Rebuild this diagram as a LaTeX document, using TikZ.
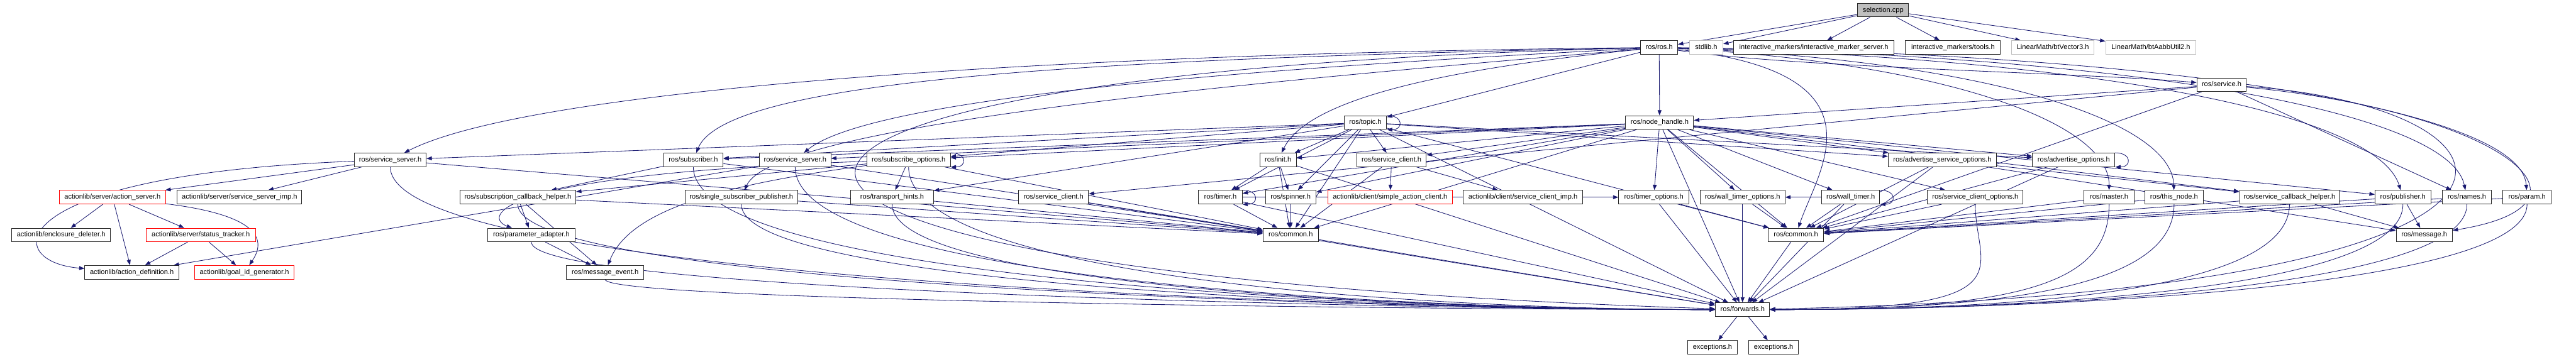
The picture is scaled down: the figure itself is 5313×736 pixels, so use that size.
\documentclass[tikz,border=0pt]{standalone}
\usepackage{fontspec}
\setmainfont{Liberation Sans}
\usetikzlibrary{arrows.meta}
\pgfdeclarelayer{bg}
\pgfsetlayers{bg,main}
\definecolor{eblue}{HTML}{191970}
\definecolor{ngray}{HTML}{BFBFBF}
\definecolor{nred}{HTML}{FF0000}
\begin{document}
\begin{tikzpicture}[x=1pt,y=-1pt,
  nd/.style={draw=black!85, line width=1.3pt, fill=white, minimum height=28pt,
    inner xsep=3pt, inner ysep=0pt, font=\fontsize{14.4}{16}\selectfont,
    text height=10.5pt, text depth=3pt},
  ndred/.style={nd, draw=nred},
  ndgray/.style={nd, draw=ngray},
  e/.style={draw=eblue, line width=1.1pt, -{Triangle[length=11pt,width=8pt]}}]
\useasboundingbox (0,0) rectangle (5313,736);
% row 0
\node[nd, fill=ngray, minimum width=105pt] (sel) at (3884,21) {selection.cpp};
% row 1
\node[nd, minimum width=76pt] (rosh) at (3422,98) {ros/ros.h};
\node[ndgray, minimum width=69pt] (stdlib) at (3519,98) {stdlib.h};
\node[nd, minimum width=330pt] (ims) at (3741,98) {interactive\_markers/interactive\_marker\_server.h};
\node[nd, minimum width=196pt] (imtools) at (4028,98) {interactive\_markers/tools.h};
\node[ndgray, minimum width=170pt] (btv) at (4234,98) {LinearMath/btVector3.h};
\node[ndgray, minimum width=186pt] (btaabb) at (4436,98) {LinearMath/btAabbUtil2.h};
% row 1.5
\node[nd, minimum width=102pt] (service) at (4582,175) {ros/service.h};
% row 2
\node[nd, minimum width=88pt] (topic) at (2816,253) {ros/topic.h};
\node[nd, minimum width=140pt] (nh) at (3423,253) {ros/node\_handle.h};
% row 3
\node[nd, minimum width=148pt] (ssA) at (805,330) {ros/service\_server.h};
\node[nd, minimum width=123pt] (sub) at (1430,330) {ros/subscriber.h};
\node[nd, minimum width=147pt] (ssB) at (1640,330) {ros/service\_server.h};
\node[nd, minimum width=172pt] (subopt) at (1874,330) {ros/subscribe\_options.h};
\node[nd, minimum width=75pt] (init) at (2636,330) {ros/init.h};
\node[nd, minimum width=143pt] (scR3) at (2870,330) {ros/service\_client.h};
\node[nd, minimum width=223pt] (aso) at (4006,330) {ros/advertise\_service\_options.h};
\node[nd, minimum width=170pt] (ao) at (4277,330) {ros/advertise\_options.h};
% row 4
\node[ndred, minimum width=220pt] (actsrv) at (232,407) {actionlib/server/action\_server.h};
\node[nd, minimum width=257pt] (ssimp) at (494,407) {actionlib/server/service\_server\_imp.h};
\node[nd, minimum width=239pt] (sch) at (1068,407) {ros/subscription\_callback\_helper.h};
\node[nd, minimum width=232pt] (ssp) at (1529,407) {ros/single\_subscriber\_publisher.h};
\node[nd, minimum width=171pt] (th) at (1840,407) {ros/transport\_hints.h};
\node[nd, minimum width=144pt] (scR4) at (2173,407) {ros/service\_client.h};
\node[nd, minimum width=90pt] (timer) at (2517,407) {ros/timer.h};
\node[nd, minimum width=104pt] (spinner) at (2662,407) {ros/spinner.h};
\node[ndred, minimum width=257pt] (sac) at (2867,407) {actionlib/client/simple\_action\_client.h};
\node[nd, minimum width=246pt] (scimp) at (3141,407) {actionlib/client/service\_client\_imp.h};
\node[nd, minimum width=145pt] (topt) at (3411,407) {ros/timer\_options.h};
\node[nd, minimum width=175pt] (wtopt) at (3594,407) {ros/wall\_timer\_options.h};
\node[nd, minimum width=120pt] (wt) at (3817,407) {ros/wall\_timer.h};
\node[nd, minimum width=197pt] (sco) at (4074,407) {ros/service\_client\_options.h};
\node[nd, minimum width=103pt] (master) at (4350,407) {ros/master.h};
\node[nd, minimum width=120pt] (thisnode) at (4484,407) {ros/this\_node.h};
\node[nd, minimum width=206pt] (scbh) at (4722,407) {ros/service\_callback\_helper.h};
\node[nd, minimum width=115pt] (pub) at (4956,407) {ros/publisher.h};
\node[nd, minimum width=101pt] (names) at (5088,407) {ros/names.h};
\node[nd, minimum width=100pt] (param) at (5212,407) {ros/param.h};
% row 5
\node[nd, minimum width=204pt] (encdel) at (126,485) {actionlib/enclosure\_deleter.h};
\node[ndred, minimum width=226pt] (stattr) at (414,485) {actionlib/server/status\_tracker.h};
\node[nd, minimum width=181pt] (padapt) at (1096,485) {ros/parameter\_adapter.h};
\node[nd, minimum width=114pt] (commonA) at (2662,485) {ros/common.h};
\node[nd, minimum width=115pt] (commonB) at (3704,485) {ros/common.h};
\node[nd, minimum width=116pt] (message) at (5000,485) {ros/message.h};
% row 6
\node[nd, minimum width=194pt] (actdef) at (272,562) {actionlib/action\_definition.h};
\node[ndred, minimum width=204pt] (goalid) at (504,562) {actionlib/goal\_id\_generator.h};
\node[nd, minimum width=159pt] (msgev) at (1248,562) {ros/message\_event.h};
% row 7, 8
\node[nd, minimum width=112pt] (fwd) at (3594,639) {ros/forwards.h};
\node[nd, minimum width=103pt] (excA) at (3532,717) {exceptions.h};
\node[nd, minimum width=102pt] (excB) at (3658,717) {exceptions.h};

\begin{pgfonlayer}{bg}
% straight connectors
\foreach \s/\t in {sel/rosh, sel/stdlib, sel/ims, sel/imtools, sel/btv, sel/btaabb,
  rosh/nh, rosh/topic, service/nh, service/scR4, service/names,
  service/commonB,
  topic/ssA, topic/subopt, topic/init, topic/scR3, topic/aso, topic/ao,
  topic/spinner, topic/timer, topic/th, topic/sub, topic/commonA, topic/commonB, topic/fwd,
  nh/ssB, nh/sub, nh/subopt, nh/init, nh/scR3, nh/aso, nh/ao, nh/pub, nh/timer,
  nh/wt, nh/topt, nh/wtopt, nh/sco, nh/spinner, nh/scbh, nh/commonA, nh/commonB, nh/fwd,
  ssA/actsrv, ssA/ssimp, actsrv/encdel, actsrv/actdef, actsrv/stattr,
  stattr/actdef, stattr/goalid, ssB/actdef,
  sub/sch, subopt/sch, subopt/th, sch/padapt, sch/msgev, padapt/msgev,
  scR3/sac, scR3/scimp, init/spinner, init/timer, timer/topt, wt/wtopt,
  aso/scbh, aso/message, scbh/message, pub/message,
  ssA/commonA, sub/commonA, ssB/commonA, subopt/commonA, sch/commonA, ssp/commonA,
  th/commonA, scR4/commonA, timer/commonA, spinner/commonA, init/commonA, scR3/commonA,
  topt/commonB, wtopt/commonB, wt/commonB, sco/commonB, master/commonB, thisnode/commonB,
  scbh/commonB, pub/commonB, names/commonB, param/commonB, aso/commonB, ao/commonB,
  commonA/fwd, commonB/fwd, scR4/fwd, timer/fwd, init/fwd, topt/fwd, wtopt/fwd, wt/fwd,
  aso/fwd, ao/fwd, fwd/excA, fwd/excB}
  \draw[e] (\s) -- (\t);
% curved connectors from ros/ros.h
\draw[e] (rosh) .. controls (3700,140) and (4300,150) .. (service);
\draw[e] (rosh) .. controls (2200,110) and (1100,180) .. (ssA);
\draw[e] (rosh) .. controls (2300,120) and (1500,160) .. (sub);
\draw[e] (rosh) .. controls (2600,140) and (1800,200) .. (ssB);
\draw[e] (rosh) .. controls (2700,160) and (1600,250) .. (ssp);
\draw[e] (rosh) .. controls (3000,140) and (2700,200) .. (init);
\draw[e] (rosh) .. controls (1250,150) and (1150,560) .. (fwd);
\draw[e] (rosh) .. controls (4000,130) and (4350,250) .. (master);
\draw[e] (rosh) .. controls (4100,125) and (4480,250) .. (thisnode);
\draw[e] (rosh) .. controls (4300,120) and (4900,230) .. (pub);
\draw[e] (rosh) .. controls (4400,115) and (5050,230) .. (names);
\draw[e] (rosh) .. controls (4500,110) and (5200,230) .. (param);
\draw[e] (rosh) .. controls (3900,150) and (3750,350) .. (commonB);
% curved connectors from ros/service.h round the right-hand side
\draw[e] (service) .. controls (5150,230) and (5400,420) .. (message);
\draw[e] (service) .. controls (5250,220) and (5420,600) .. (fwd);
% other curved connectors
\draw[e] (ssA) .. controls (0,360) and (0,540) .. (actdef);
\draw[e] (actsrv) .. controls (500,440) and (560,480) .. (goalid);
\draw[e] (subopt) .. controls (1000,360) and (1000,450) .. (padapt);
\draw[e] (subopt) .. controls (1500,380) and (1300,430) .. (msgev);
% long connectors into ros/forwards.h from the left
\foreach \s/\d in {ssA/260, sub/260, ssB/260, subopt/250, sch/190, padapt/120,
  msgev/60, ssp/190, th/190}
  \draw[e] (\s) .. controls +(0,\d) and +(-600,0) .. (fwd);
% long connectors into ros/forwards.h from the right
\foreach \s/\d in {pub/190, names/190, param/190, scbh/190, thisnode/170, master/170, sco/150}
  \draw[e] (\s) .. controls +(0,\d) and +(600,0) .. (fwd);
% self loops
\foreach \n in {topic, subopt, timer, wt, ao}
  \draw[e] (\n.north east) to[out=0, in=0, looseness=3] (\n.south east);
\end{pgfonlayer}
\end{tikzpicture}
\end{document}
